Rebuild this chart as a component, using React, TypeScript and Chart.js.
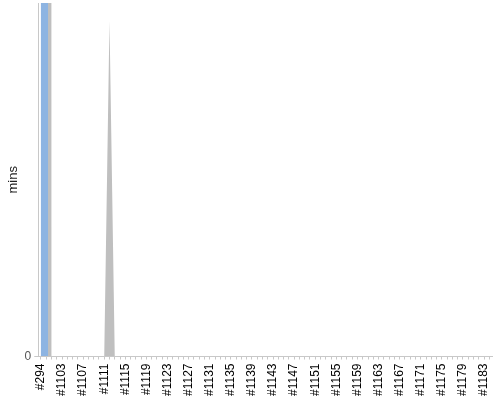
import { useEffect, useRef } from 'react'
import { Chart, registerables, type ChartConfiguration } from 'chart.js'

Chart.register(...registerables)

const builds = [
  '#294', '#1100', '#1101', '#1102', '#1103', '#1104', '#1105', '#1106', '#1107', '#1108',
  '#1109', '#1110', '#1111', '#1112', '#1113', '#1114', '#1115', '#1116', '#1117', '#1118',
  '#1119', '#1120', '#1121', '#1122', '#1123', '#1124', '#1125', '#1126', '#1127', '#1128',
  '#1129', '#1130', '#1131', '#1132', '#1133', '#1134', '#1135', '#1136', '#1137', '#1138',
  '#1139', '#1140', '#1141', '#1142', '#1143', '#1144', '#1145', '#1146', '#1147', '#1148',
  '#1149', '#1150', '#1151', '#1152', '#1153', '#1154', '#1155', '#1156', '#1157', '#1158',
  '#1159', '#1160', '#1161', '#1162', '#1163', '#1164', '#1165', '#1166', '#1167', '#1168',
  '#1169', '#1170', '#1171', '#1172', '#1173', '#1174', '#1175', '#1176', '#1177', '#1178',
  '#1179', '#1180', '#1181', '#1182', '#1183', '#1184',
]

// build duration (mins), blue bars
const buildMins = [
  2000, null, null, null, null, null, null, null, null, null,
  null, null, null, null, null, null, null, null, null, null,
  null, null, null, null, null, null, null, null, null, null,
  null, null, null, null, null, null, null, null, null, null,
  null, null, null, null, null, null, null, null, null, null,
  null, null, null, null, null, null, null, null, null, null,
  null, null, null, null, null, null, null, null, null, null,
  null, null, null, null, null, null, null, null, null, null,
  null, null, null, null, null, null,
]

// grey area series
const waitMins = [
  10000, 10000, 0, 0, 0, 0, 0, 0, 0, 0,
  0, 0, 0, 95, 0, 0, 0, 0, 0, 0,
  0, 0, 0, 0, 0, 0, 0, 0, 0, 0,
  0, 0, 0, 0, 0, 0, 0, 0, 0, 0,
  0, 0, 0, 0, 0, 0, 0, 0, 0, 0,
  0, 0, 0, 0, 0, 0, 0, 0, 0, 0,
  0, 0, 0, 0, 0, 0, 0, 0, 0, 0,
  0, 0, 0, 0, 0, 0, 0, 0, 0, 0,
  0, 0, 0, 0, 0, 0,
]

const yMax = 100

export default function App() {
  const chartRef = useRef<HTMLCanvasElement>(null)
  const chartInstance = useRef<Chart | null>(null)

  useEffect(() => {
    document.body.style.margin = '0'
    if (!chartRef.current) return
    chartInstance.current?.destroy()
    const ctx = chartRef.current.getContext('2d')
    if (!ctx) return

    Chart.defaults.font.family = '"Liberation Sans", Arial, sans-serif'

    const config: ChartConfiguration = {
      type: 'bar',
      data: {
        labels: builds,
        datasets: [
          {
            // empty slot so the blue bar sits right of the tick
            type: 'bar',
            label: '',
            data: builds.map(() => null),
            categoryPercentage: 2.7,
            barPercentage: 1,
          },
          {
            type: 'bar',
            label: 'build',
            data: buildMins,
            backgroundColor: '#8db4e2',
            categoryPercentage: 2.7,
            barPercentage: 1,
          },
          {
            type: 'line',
            label: 'wait',
            data: waitMins,
            backgroundColor: '#bfbfbf',
            borderWidth: 0,
            pointRadius: 0,
            tension: 0,
            fill: 'origin',
          },
        ],
      },
      options: {
        animation: false,
        responsive: true,
        maintainAspectRatio: false,
        layout: { autoPadding: false, padding: { top: 3, right: 8, left: 6, bottom: 0 } },
        plugins: {
          legend: { display: false },
          tooltip: { enabled: false },
        },
        scales: {
          x: {
            offset: true,
            afterFit: (scale) => {
              scale.paddingRight = 0
            },
            grid: {
              display: true,
              drawOnChartArea: false,
              offset: false,
              tickLength: 3,
              color: '#c8c8c8',
            },
            border: { color: '#c8c8c8' },
            ticks: {
              autoSkip: false,
              minRotation: 90,
              maxRotation: 90,
              padding: 4,
              color: '#000',
              font: { size: 12 },
              callback: (_v, i) => (i % 4 === 0 ? builds[i] : ''),
            },
          },
          y: {
            min: 0,
            max: yMax,
            afterBuildTicks: (axis) => {
              axis.ticks = axis.ticks.filter((t) => t.value === 0)
            },
            afterFit: (scale) => {
              scale.paddingTop = 0
            },
            grid: {
              display: true,
              drawOnChartArea: false,
              tickLength: 4,
              color: '#c8c8c8',
            },
            border: { color: '#c8c8c8' },
            ticks: { color: '#555', font: { size: 12 }, padding: 3 },
            title: {
              display: true,
              text: 'mins',
              color: '#222',
              font: { size: 13 },
              padding: { top: 0, bottom: 0 },
            },
          },
        },
      },
    }

    chartInstance.current = new Chart(ctx, config)
    return () => {
      chartInstance.current?.destroy()
    }
  }, [])

  return (
    <div style={{ position: 'relative', width: 500, height: 400 }}>
      <canvas ref={chartRef} />
    </div>
  )
}
